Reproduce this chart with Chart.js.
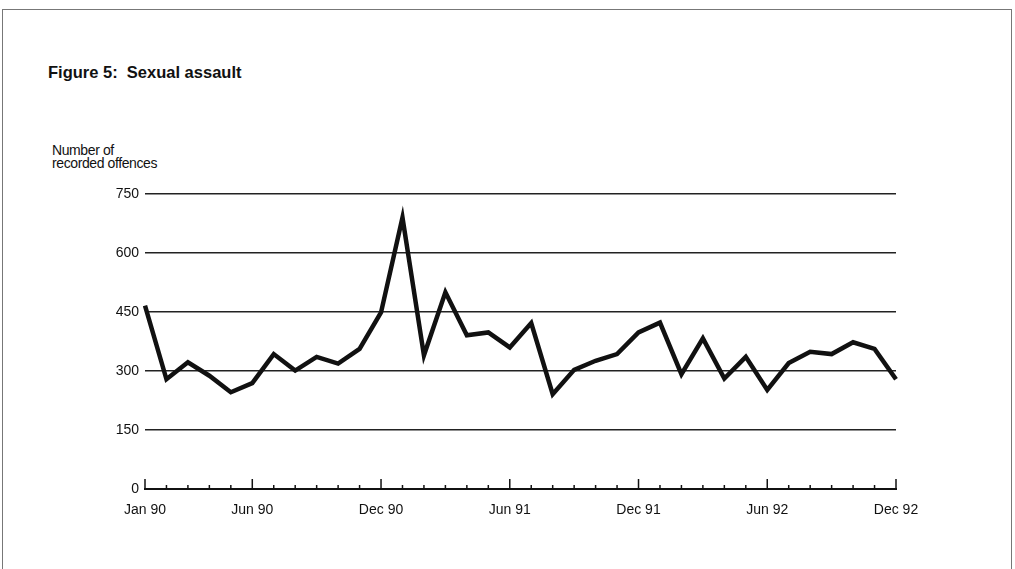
<!DOCTYPE html>
<html>
<head>
<meta charset="utf-8">
<script src="https://cdn.jsdelivr.net/npm/chart.js@4"></script>
<style>
  html, body { margin: 0; padding: 0; background: #fff; }
  body { width: 1015px; height: 569px; position: relative; overflow: hidden; font-family: "Liberation Sans", Arial, sans-serif; }
  #frame { position: absolute; left: 2px; top: 9px; width: 1008px; height: 600px; border: 1px solid #777; border-bottom: none; }
  #title { position: absolute; left: 48px; top: 63px; font-size: 16.5px; font-weight: bold; color: #111; white-space: pre; }
  #ytitle { position: absolute; left: 52px; top: 144px; font-size: 14px; line-height: 13px; color: #111; letter-spacing: -0.4px; }
  #chart { position: absolute; left: 0; top: 0; }
</style>
</head>
<body>
<div id="frame"></div>
<div id="title">Figure 5:  Sexual assault</div>
<div id="ytitle">Number of<br>recorded offences</div>
<canvas id="chart" width="1015" height="569"></canvas>
<script>
// months Jan 90 .. Dec 92
const months = [
  "Jan 90","Feb 90","Mar 90","Apr 90","May 90","Jun 90","Jul 90","Aug 90","Sep 90","Oct 90","Nov 90","Dec 90",
  "Jan 91","Feb 91","Mar 91","Apr 91","May 91","Jun 91","Jul 91","Aug 91","Sep 91","Oct 91","Nov 91","Dec 91",
  "Jan 92","Feb 92","Mar 92","Apr 92","May 92","Jun 92","Jul 92","Aug 92","Sep 92","Oct 92","Nov 92","Dec 92"
];
const offences = [
  466, 279, 322, 288, 246, 269, 343, 301, 336, 319, 356, 449,
  690, 340, 500, 391, 398, 360, 422, 241, 303, 326, 343, 398,
  423, 292, 383, 281, 336, 252, 320, 349, 343, 373, 356, 279
];
const shownLabels = ["Jan 90","Jun 90","Dec 90","Jun 91","Dec 91","Jun 92","Dec 92"];
const yTicks = [0, 150, 300, 450, 600, 750];

// small tick marks pointing up from the baseline
const monthTicks = {
  id: "monthTicks",
  afterDraw(chart) {
    const x = chart.scales.x, y = chart.scales.y;
    const base = y.getPixelForValue(0);
    const ctx = chart.ctx;
    ctx.save();
    ctx.strokeStyle = "#111";
    ctx.lineWidth = 1.5;
    months.forEach((m, i) => {
      const px = x.getPixelForValue(i);
      const len = shownLabels.includes(m) ? 10 : 4;
      ctx.beginPath();
      ctx.moveTo(px, base);
      ctx.lineTo(px, base - len);
      ctx.stroke();
    });
    ctx.restore();
  }
};

new Chart(document.getElementById("chart"), {
  type: "line",
  data: {
    labels: months,
    datasets: [{
      data: offences,
      borderColor: "#111",
      borderWidth: 4.5,
      pointRadius: 0,
      tension: 0,
      fill: false
    }]
  },
  options: {
    responsive: false,
    animation: false,
    devicePixelRatio: 1,
    layout: { padding: { left: 0, right: 119, top: 194, bottom: 0 } },
    plugins: { legend: { display: false }, tooltip: { enabled: false } },
    scales: {
      x: {
        grid: { display: false, drawTicks: false },
        border: { display: true, color: "#111", width: 2 },
        afterFit(s) { s.height = 80; },
        ticks: {
          autoSkip: false,
          maxRotation: 0,
          padding: 13,
          color: "#111",
          font: { family: "'Liberation Sans', Arial, sans-serif", size: 14 },
          callback(v, i) { return shownLabels.includes(months[i]) ? months[i] : ""; }
        }
      },
      y: {
        min: 0,
        max: 750,
        afterFit(s) { s.width = 145; },
        afterBuildTicks(s) { s.ticks = yTicks.map(v => ({ value: v })); },
        grid: { color: "#222", lineWidth: 1.5, drawTicks: false },
        border: { display: false },
        ticks: {
          padding: 6,
          color: "#111",
          font: { family: "'Liberation Sans', Arial, sans-serif", size: 14 }
        }
      }
    }
  },
  plugins: [monthTicks]
});
</script>
</body>
</html>
